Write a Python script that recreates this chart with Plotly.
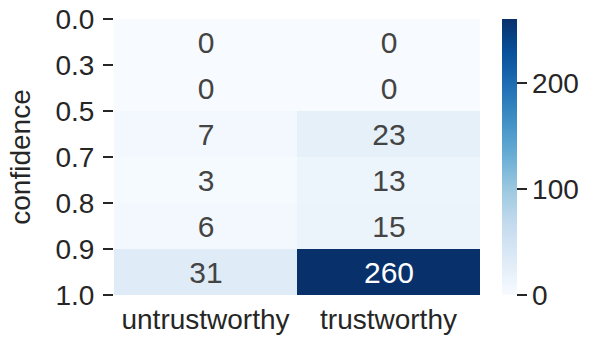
import plotly.graph_objects as go

columns = ["untrustworthy", "trustworthy"]
bin_edges = ["0.0", "0.3", "0.5", "0.7", "0.8", "0.9", "1.0"]
untrustworthy = [0, 0, 7, 3, 6, 31]
trustworthy = [0, 0, 23, 13, 15, 260]

z = [[u, t] for u, t in zip(untrustworthy, trustworthy)]
rows = [i + 0.5 for i in range(len(untrustworthy))]

FONT = "Liberation Sans, Arial, sans-serif"

fig = go.Figure(go.Heatmap(
    z=z, x=columns, y=rows,
    colorscale="Blues", zmin=0, zmax=max(trustworthy),
    texttemplate="%{z}",
    textfont=dict(size=30, family=FONT),
    colorbar=dict(
        thickness=15, len=276, lenmode="pixels", x=1, xanchor="left", xpad=22,
        y=0.5, yanchor="middle", outlinewidth=0, ypad=0,
        tickvals=[0, 100, 200], ticks="outside", ticklen=10, tickwidth=1.5, tickcolor="#262626",
        tickfont=dict(size=28, color="#262626", family=FONT),
        ticklabeloverflow="allow",
    ),
))

fig.update_layout(
    width=598, height=347,
    margin=dict(l=114, r=118, t=19, b=52, autoexpand=False),
    paper_bgcolor="white", plot_bgcolor="white",
    font=dict(family=FONT, color="#262626", size=28),
)
fig.update_xaxes(showgrid=False, zeroline=False, ticks="", tickfont=dict(size=28),
                 showline=False, automargin=False, ticklabelstandoff=5)
fig.update_yaxes(
    range=[len(untrustworthy), 0], tickvals=list(range(len(bin_edges))), ticktext=bin_edges,
    ticks="outside", ticklen=10, tickwidth=1.5, tickcolor="#262626", tickfont=dict(size=28),
    ticklabelstandoff=3, ticklabeloverflow="allow",
    showgrid=False, zeroline=False, automargin=False,
    title=dict(text="confidence", font=dict(size=28), standoff=16),
)

fig.write_html("out.html", config={"displayModeBar": False},
               post_script="document.body.style.margin='0';")
